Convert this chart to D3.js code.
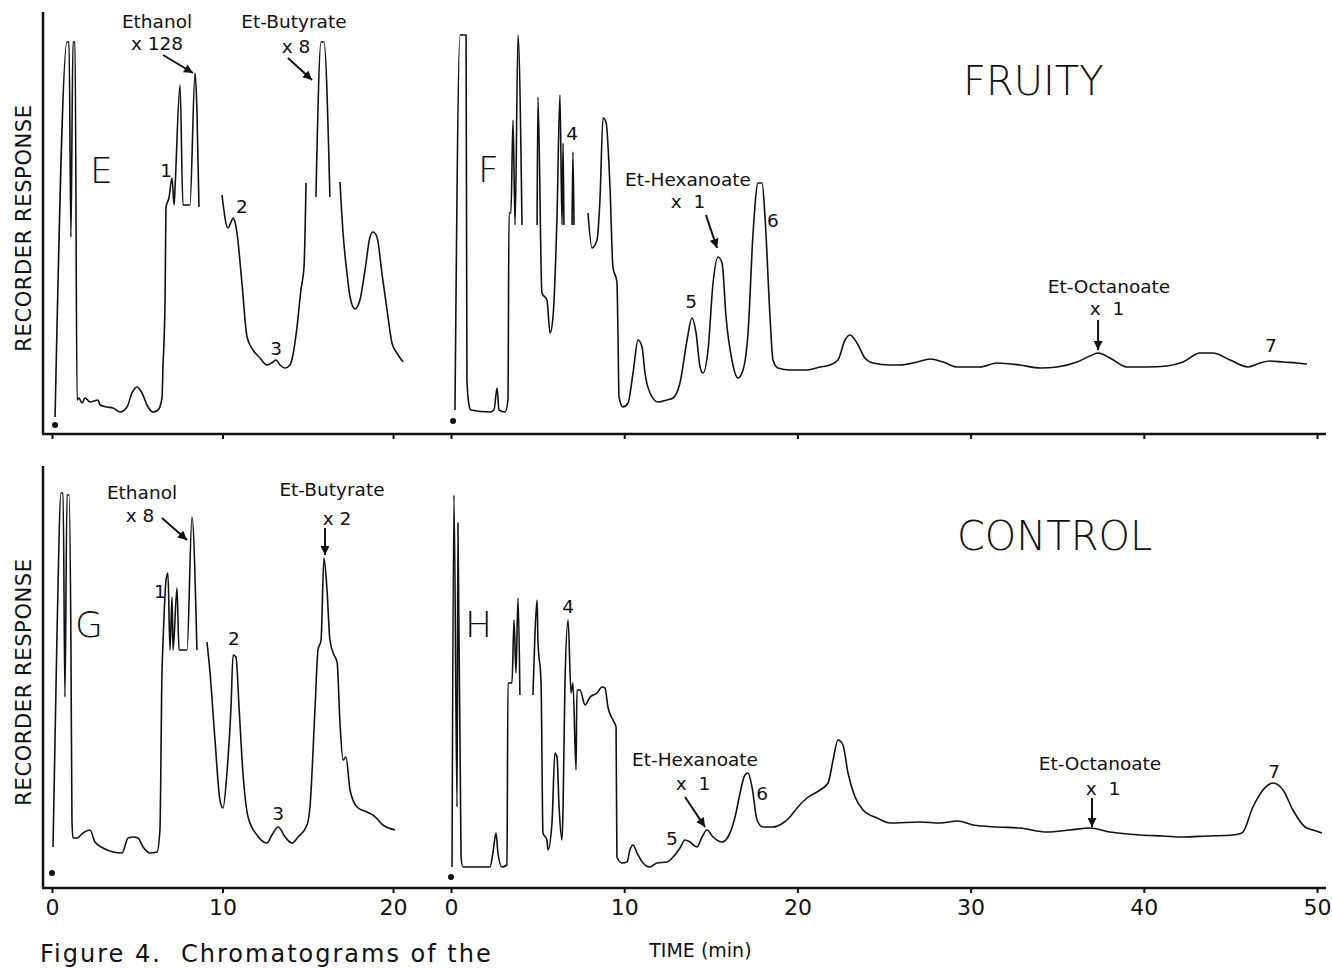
<!DOCTYPE html>
<html>
<head>
<meta charset="utf-8">
<script src="https://cdn.jsdelivr.net/npm/d3@7"></script>
<style>
  body { margin: 0; background: #fff; }
  svg { display: block; }
  text { font-family: "DejaVu Sans", sans-serif; fill: #111; }
</style>
</head>
<body>
<svg width="1332" height="969"></svg>
<script>
// time ticks (min)
const ticksLeft = [0, 10, 20];
const ticksRight = [0, 10, 20, 30, 40, 50];

// chromatogram traces: [time (min), recorder response], null = pen break
const traceE = [
  [0.18,4.25],[0.88,98],[1.0,98],[1.11,49.25],[1.23,98],[1.35,98],[1.47,8.5],
  [1.58,9],[1.76,7.75],[1.94,9],[2.23,8],[2.70,8.5],[2.82,7.25],[3.23,6.75],[3.58,6.5],[3.99,5.5],
  [4.40,6.75],[4.69,10.25],[4.99,11.75],[5.28,10.25],[5.57,7.25],[5.92,5.5],[6.22,6],[6.45,9],
  [6.51,16.75],[6.63,33.5],[6.69,56.75],[6.86,59],[7.04,64],[7.16,57.25],[7.21,61],[7.51,87.25],
  [7.68,57.25],[8.09,57.25],[8.39,90.25],[8.50,81],[8.62,56.75],
  null,
  [9.97,59.75],[10.32,51.5],[10.50,53],[10.62,54],[10.73,53],[10.85,50.25],[11.14,37.75],[11.44,24.25],
  [11.79,21],[12.20,19],[12.61,17.25],[12.96,18],[13.14,18.5],[13.37,17.25],[13.67,16.5],[13.96,17.25],
  [14.13,19.75],[14.37,26.75],[14.60,36],[14.78,41.75],[14.90,62.75],
  null,
  [15.48,59.25],[15.78,98],[15.95,98],[16.30,59.25],
  null,
  [16.89,63],[17.07,50.25],[17.30,40.25],[17.48,34.25],[17.77,31.25],[18.06,33.5],[18.36,41],[18.65,49.25],
  [18.83,50.5],[19.06,49.25],[19.35,40.25],[19.65,31],[19.94,22.75],[20.23,20.25],[20.59,18]
];

const traceF = [
  [0.23,6],[0.52,99.75],[0.87,99.75],[0.92,13.5],[1.04,7.25],[1.15,6],[2.25,5.5],[2.48,6],[2.66,11.5],
  [2.77,6],[3.12,5.5],[3.29,8.5],[3.35,55.25],[3.46,55.25],[3.58,78.5],[3.70,52.25],[3.87,99.75],[4.10,52.25],
  null,
  [4.97,52.25],[5.02,84.25],[5.25,35.25],[5.54,33.5],[5.72,25.25],[5.89,29.25],[6.12,54.25],[6.29,84.75],
  [6.41,52.25],[6.47,72.75],[6.52,52.25],
  null,
  [6.99,52.25],[7.04,70.5],[7.10,52.25],
  null,
  [7.91,55.25],[8.14,46.5],[8.43,48.5],[8.60,58.5],[8.78,79],[8.95,78],[9.18,61.75],[9.35,41.75],[9.58,38],
  [9.64,25.25],[9.70,9.25],[9.93,6.75],[10.22,7.75],[10.51,15.25],[10.80,23.5],[11.03,21.75],[11.20,15.25],
  [11.49,10.25],[11.95,8],[12.47,8.5],[12.82,9],[13.22,12.75],[13.63,23.5],[13.91,29],[14.15,25.25],
  [14.38,16.75],[14.55,15.25],[14.84,21],[15.13,37.75],[15.42,44.25],[15.65,42.75],[15.88,29.25],[16.22,18.5],
  [16.57,14],[16.86,16],[17.15,25.25],[17.44,50.25],[17.73,62.75],[17.96,62.75],[18.13,54.25],[18.42,29.25],
  [18.59,18.5],[18.88,16.5],[19.57,16],[20.55,16],[21.31,16.75],[21.88,17.25],[22.34,18.5],[22.75,23.5],
  [23.04,24.75],[23.44,22.75],[23.90,19],[24.36,17.75],[25.35,17.25],[25.92,17.25],[26.91,18],[27.66,18.75],
  [28.41,18],[29.21,16.75],[30.54,16.75],[31.52,17.75],[32.85,17.25],[34.01,16.5],[34.99,16.75],[36.14,18],
  [36.89,19.5],[37.36,20.25],[38.05,19],[39.03,16.75],[40.18,16.75],[41.34,17],[42.26,18],[43.24,20.25],
  [43.99,20.25],[44.98,18.5],[46.02,16.75],[46.71,17.75],[47.29,18.25],[48.04,18],[48.85,17.75],[49.42,17.5]
];

const traceG = [
  [0.06,10.25],[0.29,62.75],[0.53,98.75],[0.65,98.75],[0.76,47.75],[0.88,98.25],[1.0,98.25],[1.11,61.5],
  [1.17,17],[1.23,12.5],[1.47,12.5],[1.82,13.75],[2.23,14.5],[2.52,11.5],[2.99,10],[3.58,9],[4.11,8.75],
  [4.46,12.5],[4.75,12.75],[5.04,12.5],[5.34,10.25],[5.75,8.75],[6.16,9],[6.33,14.5],[6.45,53.75],[6.51,61.25],
  [6.69,77],[6.80,78.75],[6.92,59.5],[7.04,72.75],[7.10,59.5],[7.33,75],[7.45,59.5],[7.92,59.5],[8.21,92.75],
  [8.50,59.5],
  null,
  [9.09,61.5],[9.27,53.75],[9.56,37],[9.85,22],[10.03,20],[10.26,28.75],[10.50,45.25],[10.62,58.25],
  [10.79,57.75],[10.97,45.25],[11.20,28.75],[11.50,17.75],[12.02,13.25],[12.61,11.25],[12.90,13.25],
  [13.26,15.25],[13.67,12.75],[14.08,11.25],[14.43,12.75],[14.96,15.75],[15.13,20.25],[15.43,45.25],
  [15.60,59.5],[15.78,62],[15.95,82.5],[16.13,74.5],[16.30,62],[16.54,58.25],[16.72,56.5],[16.89,41.25],
  [17.07,32],[17.24,32.75],[17.48,24.5],[17.89,20.25],[18.48,19],[18.83,18.25],[19.41,15.75],[20.12,14.5]
];

const traceH = [
  [0.06,5.25],[0.17,98.25],[0.35,20.25],[0.40,91.25],[0.58,7.75],[0.69,5.25],[2.25,5.25],[2.42,8.75],
  [2.60,13.75],[2.71,8.75],[2.94,5.25],[3.23,5.75],[3.29,51.25],[3.52,51.25],[3.64,67],[3.75,53.75],
  [3.87,72.5],[3.98,48.25],
  null,
  [4.73,48.25],[4.85,63.75],[4.97,72],[5.02,62],[5.20,51.25],[5.31,13.75],[5.54,12],[5.60,9.5],[5.83,16.25],
  [6.00,33.75],[6.12,32.75],[6.24,20.25],[6.41,12],[6.47,20.25],[6.58,51.25],[6.76,67],[6.93,48.75],
  [7.04,51.25],[7.22,29.5],[7.27,49.5],[7.45,49.5],[7.74,45.75],[8.03,47.75],[8.43,48.75],[8.72,50.25],
  [8.89,50],[9.06,45.25],[9.35,42],[9.53,40.25],[9.58,7.75],[9.87,6.25],[10.16,6.5],[10.33,9.5],[10.51,10.75],
  [10.74,8.75],[11.09,6.25],[11.49,5.25],[11.89,6.25],[12.47,6.5],[12.82,7.75],[13.22,10],[13.51,12],
  [13.80,11.5],[14.20,10.25],[14.49,12.75],[14.78,14.5],[15.13,12.75],[15.65,11.5],[15.99,12.75],[16.40,17.75],
  [16.69,23.75],[16.97,28.25],[17.15,28.75],[17.38,25.25],[17.67,17],[18.01,15.25],[18.59,15.25],[19.17,16.25],
  [19.57,17.75],[19.98,20],[20.55,22.5],[21.31,24.5],[21.77,26.25],[22.06,32],[22.34,37],[22.63,35.75],
  [22.92,28.75],[23.33,22.75],[23.79,19.5],[24.60,17.5],[25.35,16.25],[27.08,16.5],[28.23,16.25],[29.27,16.75],
  [30.14,15.75],[31.52,15.25],[32.85,15],[34.41,14],[35.74,14.5],[36.89,15],[38.05,14],[39.78,13.25],
  [41.11,13],[42.26,12.75],[43.65,13],[45.15,13.25],[45.67,13.75],[46.30,20.25],[46.88,24.5],[47.46,26.25],
  [48.04,24.5],[48.61,19.5],[49.31,15.25],[49.77,14.5],[50.29,13.75]
];

// injection markers [time, response]
const startE = [0.18, 2.25], startF = [0.12, 3.25], startG = [0, 3.75], startH = [0, 2.75];

// annotations: text placed at [time, response]
const labelsE = [
  ["Ethanol", 6.16, 101.5], ["x 128", 6.16, 96], ["Et-Butyrate", 14.19, 101.5], ["x 8", 14.31, 95.25],
  ["1", 6.69, 64.25], ["2", 11.14, 55.25], ["3", 13.14, 19.75]
];
const arrowsE = [[6.51, 94.75, 8.27, 90.25], [13.84, 94, 15.25, 88.5]];
const labelsF = [
  ["4", 6.99, 73.5], ["Et-Hexanoate", 13.68, 62], ["x  1", 13.68, 56.5], ["5", 13.86, 31.5], ["6", 18.59, 51.75],
  ["Et-Octanoate", 37.99, 35.25], ["x  1", 37.88, 29.75], ["7", 47.34, 20.5]
];
const arrowsF = [[14.72, 54.75, 15.36, 46.5], [37.36, 28.5, 37.36, 21]];
const labelsG = [
  ["Ethanol", 5.28, 97.25], ["x 8", 5.16, 91.5], ["Et-Butyrate", 16.42, 98], ["x 2", 16.72, 90.75],
  ["1", 6.33, 72.5], ["2", 10.67, 60.75], ["3", 13.26, 17]
];
const arrowsG = [[6.45, 92.5, 7.92, 87], [16.01, 90, 16.01, 83.25]];
const labelsH = [
  ["4", 6.76, 68.75], ["Et-Hexanoate", 14.09, 30.5], ["x  1", 13.97, 24.5], ["5", 12.76, 10.75], ["6", 17.96, 22],
  ["Et-Octanoate", 37.47, 29.5], ["x  1", 37.64, 23.25], ["7", 47.52, 27.5]
];
const arrowsH = [[13.51, 22.75, 14.67, 15.25], [37.01, 22.5, 37.01, 15.25]];

// panel letters and group titles [text, time, response]
const letterE = ["E", 2.23, 62.75], letterF = ["F", 1.56, 63], letterG = ["G", 1.35, 62.75], letterH = ["H", 0.81, 62.75];
const titleTop = ["FRUITY", 29.56, 84.75], titleBottom = ["CONTROL", 29.21, 84.5];

const svg = d3.select("svg");
const ink = "#111";

const xL = d3.scaleLinear().domain([0, 20]).range([52, 393]);
const xR = d3.scaleLinear().domain([0, 50]).range([451, 1317]);
const yTop = d3.scaleLinear().domain([0, 100]).range([434, 34]);
const yBot = d3.scaleLinear().domain([0, 100]).range([888, 488]);

svg.append("defs").append("marker")
    .attr("id", "arrow")
    .attr("viewBox", "0 0 10 10")
    .attr("refX", 10).attr("refY", 5)
    .attr("markerWidth", 10).attr("markerHeight", 9)
    .attr("markerUnits", "userSpaceOnUse")
    .attr("orient", "auto")
  .append("path")
    .attr("d", "M0,0L10,5L0,10Z")
    .attr("fill", ink);

function drawAxes(y, showLabels) {
  const g = svg.append("g").attr("transform", "translate(0," + y(0) + ")");
  g.append("line")
    .attr("x1", 42).attr("x2", 1326)
    .attr("stroke", ink).attr("stroke-width", 2.5);
  [[xL, ticksLeft], [xR, ticksRight]].forEach(([x, ticks]) => {
    const a = g.append("g")
      .call(d3.axisBottom(x).tickValues(ticks).tickSize(5).tickPadding(6)
        .tickFormat(showLabels ? d3.format("d") : () => ""));
    a.select(".domain").remove();
    a.selectAll(".tick line").attr("stroke", ink).attr("stroke-width", 2);
    a.selectAll(".tick text")
      .attr("font-family", "DejaVu Sans, sans-serif")
      .attr("font-size", 22).attr("fill", ink);
  });
  // vertical response axis
  svg.append("line")
    .attr("x1", 43).attr("x2", 43)
    .attr("y1", y(0)).attr("y2", y(105.5))
    .attr("stroke", ink).attr("stroke-width", 2.5);
  svg.append("text")
    .attr("transform", "translate(31," + y(51.5) + ") rotate(-90)")
    .attr("text-anchor", "middle")
    .attr("font-size", 21)
    .attr("letter-spacing", 0.6)
    .text("RECORDER RESPONSE");
}

function drawTrace(data, start, x, y) {
  const line = d3.line()
    .defined(d => d !== null)
    .x(d => x(d[0]))
    .y(d => y(d[1]))
    .curve(d3.curveMonotoneX);
  svg.append("path")
    .datum(data)
    .attr("fill", "none")
    .attr("stroke", ink)
    .attr("stroke-width", 1.6)
    .attr("stroke-linejoin", "round")
    .attr("d", line);
  svg.append("circle")
    .attr("cx", x(start[0])).attr("cy", y(start[1]))
    .attr("r", 3).attr("fill", ink);
}

function drawNotes(labels, arrows, letter, x, y) {
  svg.append("g").selectAll("text")
    .data(labels)
    .join("text")
      .attr("x", d => x(d[1]))
      .attr("y", d => y(d[2]))
      .attr("text-anchor", "middle")
      .attr("font-size", 18.5)
      .style("white-space", "pre")
      .text(d => d[0]);
  svg.append("g").selectAll("line")
    .data(arrows)
    .join("line")
      .attr("x1", d => x(d[0])).attr("y1", d => y(d[1]))
      .attr("x2", d => x(d[2])).attr("y2", d => y(d[3]))
      .attr("stroke", ink).attr("stroke-width", 2)
      .attr("marker-end", "url(#arrow)");
  svg.append("text")
    .attr("x", x(letter[1])).attr("y", y(letter[2]))
    .attr("font-size", 36)
    .attr("font-weight", 300)
    .text(letter[0]);
}

function drawTitle(title, x, y) {
  svg.append("text")
    .attr("x", x(title[1])).attr("y", y(title[2]))
    .attr("font-size", 40)
    .attr("font-weight", 300)
    .text(title[0]);
}

drawAxes(yTop, false);
drawAxes(yBot, true);

drawTrace(traceE, startE, xL, yTop);
drawTrace(traceF, startF, xR, yTop);
drawTrace(traceG, startG, xL, yBot);
drawTrace(traceH, startH, xR, yBot);

drawNotes(labelsE, arrowsE, letterE, xL, yTop);
drawNotes(labelsF, arrowsF, letterF, xR, yTop);
drawNotes(labelsG, arrowsG, letterG, xL, yBot);
drawNotes(labelsH, arrowsH, letterH, xR, yBot);

drawTitle(titleTop, xR, yTop);
drawTitle(titleBottom, xR, yBot);

svg.append("text")
  .attr("x", xR(14.4)).attr("y", 957)
  .attr("text-anchor", "middle")
  .attr("font-size", 19)
  .text("TIME (min)");

// figure caption line under the axes
svg.append("text")
  .attr("x", 40).attr("y", 962)
  .attr("font-family", "'Liberation Mono', monospace")
  .attr("font-size", 24)
  .attr("letter-spacing", 2)
  .style("white-space", "pre")
  .text("Figure 4.  Chromatograms of the");
</script>
</body>
</html>
